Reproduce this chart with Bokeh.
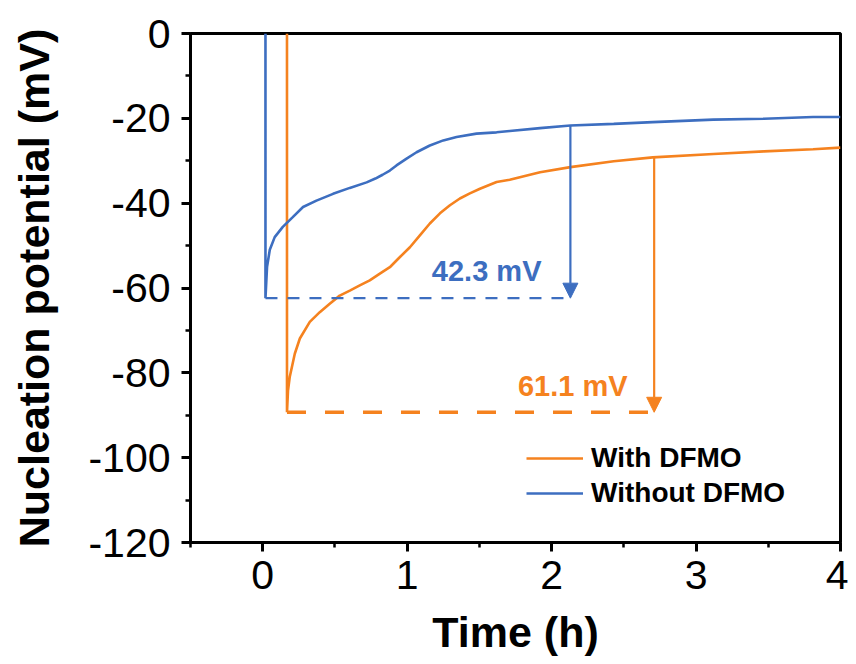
from bokeh.plotting import figure
from bokeh.models import (Range1d, FixedTicker, Legend, LegendItem, Arrow,
                          NormalHead, Label)
from bokeh.embed import file_html
from bokeh.resources import INLINE

# ---- data ----
with_t = [0.168, 0.168, 0.175, 0.187, 0.222, 0.257, 0.326, 0.395, 0.464, 0.533,
          0.603, 0.672, 0.741, 0.811, 0.880, 0.950, 1.019, 1.088, 1.157, 1.227,
          1.296, 1.365, 1.434, 1.504, 1.619, 1.71, 1.92, 2.13, 2.43, 2.70,
          3.12, 3.47, 3.81, 4.0]
with_v = [0.0, -89.3, -84.2, -81.0, -75.5, -71.9, -68.0, -65.7, -63.7, -61.8,
          -60.6, -59.4, -58.2, -56.6, -55.1, -52.7, -50.4, -47.6, -44.8, -42.4,
          -40.5, -38.9, -37.7, -36.6, -35.0, -34.5, -32.7, -31.5, -30.1, -29.2,
          -28.4, -27.8, -27.3, -26.9]

without_t = [0.019, 0.019, 0.030, 0.049, 0.083, 0.139, 0.208, 0.279, 0.372, 0.487,
             0.603, 0.719, 0.780, 0.830, 0.880, 0.926, 0.996, 1.065, 1.157, 1.25,
             1.342, 1.48, 1.619, 1.71, 1.92, 2.13, 2.43, 2.70, 3.12, 3.47, 3.81, 4.0]
without_v = [0.0, -62.4, -55.0, -51.0, -48.0, -45.6, -43.3, -40.9, -39.4, -37.8,
             -36.4, -35.1, -34.2, -33.3, -32.3, -31.1, -29.5, -28.0, -26.4, -25.2,
             -24.4, -23.6, -23.3, -23.0, -22.3, -21.7, -21.3, -20.9, -20.3, -20.1,
             -19.7, -19.7]

series_labels = ["With DFMO", "Without DFMO"]

# overpotential markers: (time of arrow, curve value, minimum value, label)
with_marker = (2.71, -29.2, -89.3, "61.1 mV")
without_marker = (2.13, -21.7, -62.4, "42.3 mV")
with_start = 0.168
without_start = 0.019

x_major = [0, 1, 2, 3, 4]
x_minor = [-0.5, 0.5, 1.5, 2.5, 3.5]
y_major = [-120, -100, -80, -60, -40, -20, 0]
y_minor = [-110, -90, -70, -50, -30, -10]

ORANGE = "#F5821F"
BLUE = "#3D6EC0"
FONT = "Liberation Sans"

p = figure(width=848, height=664, output_backend="svg", toolbar_location=None,
           x_range=Range1d(-0.5, 4), y_range=Range1d(-120, 0),
           min_border_left=190, min_border_right=8, min_border_top=33,
           min_border_bottom=122)
p.background_fill_color = "white"
p.border_fill_color = "white"
p.grid.visible = False
p.outline_line_color = "black"
p.outline_line_width = 3

r_with = p.line(with_t, with_v, line_color=ORANGE, line_width=2.6)
r_without = p.line(without_t, without_v, line_color=BLUE, line_width=2.6)

# dashed baselines
p.line([with_start, with_marker[0]], [with_marker[2], with_marker[2]],
       line_color=ORANGE, line_width=3.5, line_dash="19 19")
p.line([without_start, without_marker[0]], [without_marker[2], without_marker[2]],
       line_color=BLUE, line_width=2.2, line_dash="12 10")

# arrows
for (t, top, bot, _), col in [(with_marker, ORANGE), (without_marker, BLUE)]:
    p.add_layout(Arrow(x_start=t, y_start=top, x_end=t, y_end=bot,
                       line_color=col, line_width=2.2,
                       end=NormalHead(size=15, fill_color=col, line_color=col,
                                      line_width=1)))

p.add_layout(Label(x=1.171, y=-56.0, text=without_marker[3], text_color=BLUE,
                   text_font=FONT, text_font_style="bold", text_font_size="29px",
                   text_baseline="alphabetic", text_align="left"))
p.add_layout(Label(x=1.767, y=-83.0, text=with_marker[3], text_color=ORANGE,
                   text_font=FONT, text_font_style="bold", text_font_size="29px",
                   text_baseline="alphabetic", text_align="left"))

# axes
p.xaxis.ticker = FixedTicker(ticks=x_major, minor_ticks=x_minor)
p.yaxis.ticker = FixedTicker(ticks=y_major, minor_ticks=y_minor)
p.yaxis.major_label_overrides = {v: str(v) for v in y_major}
p.xaxis.major_label_overrides = {v: str(v) for v in x_major}
p.xaxis.axis_label = "Time (h)"
p.yaxis.axis_label = "Nucleation potential (mV)"
for ax in (p.xaxis[0], p.yaxis[0]):
    ax.axis_line_width = 3
    ax.axis_line_color = "black"
    ax.major_tick_line_width = 3
    ax.minor_tick_line_width = 2.5
    ax.major_tick_out = 9
    ax.major_tick_in = 0
    ax.minor_tick_out = 5
    ax.minor_tick_in = 0
    ax.major_label_text_font = FONT
    ax.major_label_text_font_size = "41px"
    ax.major_label_text_color = "black"
    ax.axis_label_text_font = FONT
    ax.axis_label_text_font_style = "bold"
    ax.axis_label_text_font_size = "43px"
    ax.axis_label_text_color = "black"
p.xaxis.major_label_standoff = 9
p.xaxis.axis_label_standoff = 16
p.yaxis.major_label_standoff = 11
p.yaxis.axis_label_standoff = 27

legend = Legend(items=[LegendItem(label=series_labels[0], renderers=[r_with]),
                       LegendItem(label=series_labels[1], renderers=[r_without])],
                location=(336, 33), border_line_color=None,
                background_fill_alpha=0, label_text_font=FONT,
                label_text_font_style="bold", label_text_font_size="28px",
                label_text_color="black",
                glyph_width=57, glyph_height=30, label_height=30, spacing=3,
                label_standoff=8, padding=10)
p.add_layout(legend)

open("out.html", "w").write(file_html(p, INLINE))
